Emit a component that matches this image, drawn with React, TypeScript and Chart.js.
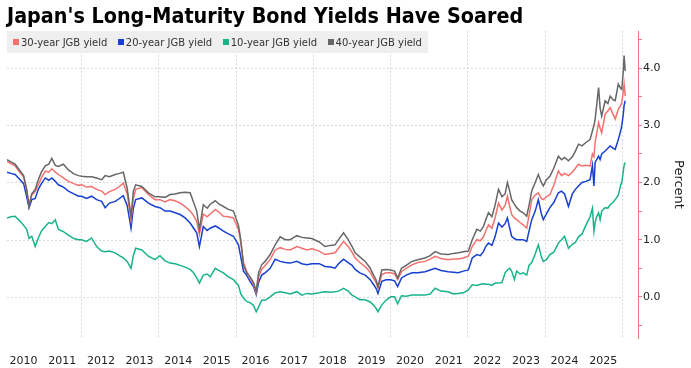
import React, { useEffect, useRef } from 'react';
import { Chart, registerables } from 'chart.js';

Chart.register(...registerables);

const TITLE = "Japan's Long-Maturity Bond Yields Have Soared";
const seriesNames = ['30-year JGB yield', '20-year JGB yield', '10-year JGB yield', '40-year JGB yield'];
const seriesColors = ['#f4716e', '#1740d0', '#19b38a', '#676767'];
const yearLabels = ['2010', '2011', '2012', '2013', '2014', '2015', '2016', '2017', '2018', '2019', '2020', '2021', '2022', '2023', '2024', '2025'];
const gridYears = [2012, 2014, 2016, 2018, 2020, 2022, 2024, 2026];
const yAxisTitle = 'Percent';

const dates = [
  2010.07, 2010.17, 2010.28, 2010.41, 2010.50, 2010.58, 2010.64, 2010.71, 2010.80, 2010.88, 2010.96,
  2011.06, 2011.15, 2011.23, 2011.32, 2011.40, 2011.53, 2011.66, 2011.80, 2011.92,
  2012.00, 2012.13, 2012.26, 2012.39, 2012.52, 2012.61, 2012.72, 2012.87, 2012.98,
  2013.08, 2013.18, 2013.28, 2013.34, 2013.40, 2013.56, 2013.73, 2013.90,
  2014.03, 2014.16,
  2014.29, 2014.42, 2014.55, 2014.68, 2014.81, 2014.90, 2014.98,
  2015.05, 2015.15, 2015.25, 2015.33, 2015.46, 2015.56, 2015.67, 2015.80, 2015.93,
  2016.06, 2016.12, 2016.19, 2016.27, 2016.36, 2016.45, 2016.52, 2016.58, 2016.66, 2016.75, 2016.88,
  2017.01, 2017.14, 2017.27, 2017.40, 2017.57, 2017.70, 2017.83, 2017.96,
  2018.15,
  2018.30, 2018.45, 2018.56, 2018.65, 2018.78, 2018.90,
  2019.00, 2019.08, 2019.20, 2019.34, 2019.47, 2019.55, 2019.62, 2019.67, 2019.77, 2019.88,
  2020.00, 2020.10, 2020.18, 2020.28, 2020.40, 2020.55, 2020.70, 2020.89,
  2021.02, 2021.15, 2021.30, 2021.49, 2021.62, 2021.75, 2021.88,
  2022.01,
  2022.11, 2022.23, 2022.32, 2022.40, 2022.46, 2022.53, 2022.62, 2022.70, 2022.79, 2022.88, 2022.96,
  2023.02, 2023.08, 2023.13, 2023.20, 2023.26, 2023.35, 2023.43, 2023.52, 2023.58, 2023.65, 2023.74, 2023.82, 2023.90, 2023.95,
  2024.03, 2024.12, 2024.22, 2024.34, 2024.42, 2024.50, 2024.60, 2024.70, 2024.78, 2024.86, 2024.95,
  2025.05, 2025.16, 2025.22, 2025.26, 2025.29, 2025.33, 2025.38, 2025.42, 2025.46, 2025.55, 2025.62, 2025.68, 2025.75, 2025.81, 2025.89, 2025.95, 2025.98,
  2026.02, 2026.04, 2026.07,
];

const yield30 = [
  2.37, 2.33, 2.29, 2.17, 2.10, 1.86, 1.61, 1.78, 1.84, 1.96, 2.08,
  2.20, 2.18, 2.24, 2.18, 2.14, 2.08, 2.02, 1.98, 1.95,
  1.96, 1.92, 1.93, 1.88, 1.85, 1.79, 1.84, 1.88, 1.93,
  1.99, 1.80, 1.35, 1.72, 1.88, 1.91, 1.79, 1.70,
  1.70, 1.66,
  1.70, 1.68, 1.64, 1.58, 1.50, 1.42, 1.32,
  1.09, 1.45, 1.40, 1.45, 1.53, 1.48, 1.41, 1.40, 1.38,
  1.18, 0.95, 0.60, 0.45, 0.33, 0.22, 0.07, 0.35, 0.48, 0.55, 0.65,
  0.82, 0.86, 0.83, 0.82, 0.88, 0.85, 0.82, 0.84,
  0.80,
  0.74, 0.76, 0.77, 0.85, 0.97, 0.88,
  0.78, 0.68, 0.60, 0.53, 0.43, 0.33, 0.25, 0.15, 0.39, 0.42,
  0.42, 0.40, 0.30, 0.44, 0.50, 0.56, 0.60, 0.62,
  0.66, 0.71, 0.67, 0.65, 0.66, 0.66, 0.68,
  0.71,
  0.88, 1.00, 0.98, 1.05, 1.15, 1.26, 1.20, 1.38, 1.64, 1.52, 1.60,
  1.76, 1.58, 1.44, 1.38, 1.35, 1.30, 1.26, 1.20, 1.42, 1.70, 1.78, 1.82, 1.72, 1.70,
  1.75, 1.79, 1.95, 2.20, 2.12, 2.16, 2.12, 2.18, 2.25, 2.32, 2.29,
  2.30, 2.29, 2.50, 2.45, 2.70, 2.85, 3.05, 2.95, 2.87, 3.20, 3.25, 3.31, 3.20, 3.11, 3.28, 3.35, 3.40,
  3.60, 3.72, 3.51,
];

const yield20 = [
  2.18, 2.16, 2.14, 2.05, 1.98, 1.75, 1.56, 1.70, 1.72, 1.88, 1.98,
  2.08, 2.04, 2.08, 2.02, 1.96, 1.92, 1.85, 1.80, 1.76,
  1.76, 1.72, 1.76, 1.70, 1.67, 1.56, 1.64, 1.67, 1.72,
  1.77, 1.60, 1.20, 1.55, 1.70, 1.73, 1.64, 1.58,
  1.56, 1.50,
  1.50, 1.47, 1.44, 1.38, 1.29, 1.20, 1.12,
  0.88, 1.23, 1.16, 1.20, 1.24, 1.20, 1.15, 1.10, 1.06,
  0.91, 0.70, 0.45, 0.38, 0.27, 0.18, 0.04, 0.25, 0.38, 0.42, 0.50,
  0.66, 0.62, 0.60, 0.59, 0.62, 0.58, 0.56, 0.58,
  0.58,
  0.53, 0.52, 0.50, 0.58, 0.66, 0.60,
  0.55, 0.48, 0.42, 0.38, 0.30, 0.22, 0.15, 0.06, 0.27, 0.30,
  0.30, 0.28, 0.18, 0.33, 0.38, 0.42, 0.42, 0.44,
  0.47, 0.50, 0.46, 0.44, 0.43, 0.42, 0.45,
  0.47,
  0.68, 0.74, 0.72, 0.79, 0.88, 0.94, 0.90, 1.05, 1.29, 1.22, 1.28,
  1.38, 1.20, 1.06, 1.02, 1.00, 1.00, 1.00, 0.97, 1.15, 1.35, 1.50, 1.70, 1.45, 1.35,
  1.45, 1.56, 1.65, 1.82, 1.85, 1.80, 1.58, 1.80, 1.88, 1.94, 2.00,
  2.02, 2.05, 2.30, 1.94, 2.35, 2.40, 2.46, 2.40, 2.50, 2.55, 2.60, 2.64, 2.60, 2.58, 2.75, 2.90, 2.99,
  3.20, 3.35, 3.43,
];

const yield10 = [
  1.38, 1.40, 1.41, 1.32, 1.25, 1.18, 1.02, 1.06, 0.88, 1.03, 1.15,
  1.23, 1.30, 1.28, 1.35, 1.18, 1.14, 1.08, 1.02, 1.00,
  1.00, 0.97, 1.03, 0.88, 0.80, 0.79, 0.80, 0.77, 0.72,
  0.68, 0.62, 0.50, 0.72, 0.85, 0.82, 0.71, 0.65,
  0.72, 0.63,
  0.59, 0.58, 0.55, 0.52, 0.48, 0.42, 0.33,
  0.24, 0.38, 0.40, 0.35, 0.50, 0.46, 0.42, 0.35, 0.30,
  0.20, 0.05, -0.02, -0.08, -0.10, -0.15, -0.26, -0.18, -0.06, -0.06, 0.00,
  0.07, 0.09, 0.07, 0.05, 0.09, 0.03, 0.06, 0.05,
  0.07,
  0.09, 0.08, 0.09, 0.10, 0.15, 0.10,
  0.03, 0.00, -0.05, -0.05, -0.09, -0.14, -0.20, -0.26, -0.14, -0.06,
  0.00, 0.00, -0.12, 0.02, 0.01, 0.03, 0.03, 0.03,
  0.05, 0.15, 0.10, 0.09, 0.05, 0.06, 0.07,
  0.12,
  0.21, 0.20, 0.22, 0.23, 0.22, 0.22, 0.20, 0.24, 0.24, 0.25, 0.42,
  0.47, 0.50, 0.45, 0.30, 0.45, 0.40, 0.42, 0.38, 0.55, 0.60, 0.75, 0.91, 0.70, 0.62,
  0.65, 0.74, 0.78, 0.94, 1.00, 1.06, 0.85, 0.92, 0.95, 1.05, 1.10,
  1.25, 1.40, 1.55, 1.15, 1.30, 1.40, 1.47, 1.35, 1.50, 1.56, 1.55, 1.61, 1.65, 1.70, 1.78, 1.95, 2.00,
  2.20, 2.30, 2.35,
];

const yield40 = [
  2.40, 2.36, 2.32, 2.20, 2.12, 1.88, 1.58, 1.80, 1.88, 2.05, 2.18,
  2.29, 2.32, 2.42, 2.30, 2.28, 2.32, 2.22, 2.15, 2.12,
  2.11, 2.10, 2.10, 2.08, 2.05, 2.12, 2.10, 2.14, 2.16,
  2.18, 1.90, 1.41, 1.85, 1.96, 1.93, 1.82, 1.75,
  1.75, 1.74,
  1.79, 1.80, 1.82, 1.83, 1.82, 1.65, 1.50,
  1.18, 1.61, 1.55, 1.62, 1.68, 1.62, 1.58, 1.53, 1.50,
  1.25, 1.00, 0.55, 0.42, 0.35, 0.25, 0.10, 0.42, 0.56, 0.62, 0.74,
  0.91, 1.05, 1.00, 1.00, 1.07, 1.04, 1.03, 1.02,
  0.96,
  0.88, 0.90, 0.91, 1.00, 1.12, 1.00,
  0.88, 0.77, 0.70, 0.62, 0.50, 0.39, 0.30, 0.18, 0.47, 0.48,
  0.47, 0.45, 0.33, 0.50, 0.55, 0.62, 0.65, 0.68,
  0.72, 0.79, 0.75, 0.74, 0.76, 0.77, 0.79,
  0.80,
  1.00, 1.18, 1.15, 1.23, 1.35, 1.47, 1.40, 1.60, 1.88, 1.75, 1.80,
  2.00, 1.85, 1.70, 1.62, 1.56, 1.50, 1.47, 1.41, 1.60, 1.85, 2.00, 2.14, 2.00, 1.94,
  2.05, 2.11, 2.25, 2.46, 2.40, 2.44, 2.38, 2.45, 2.55, 2.67, 2.64,
  2.70, 2.75, 2.90, 3.00, 3.10, 3.35, 3.66, 3.30, 3.16, 3.43, 3.38, 3.51, 3.45, 3.43, 3.72, 3.65, 3.63,
  3.95, 4.22, 3.95,
];

const seriesValues = [yield30, yield20, yield10, yield40];
const drawOrder = [1, 2, 3, 0];

const X_MIN = 2010.07;
const X_MAX = 2026.4;
const Y_MIN = -0.72;
const Y_MAX = 4.65;

const GRID_COLOR = '#d9d9d9';
const AXIS_RED = '#ec7b7b';
const FONT = "'DejaVu Sans', sans-serif";

const isInt = (v: number) => Math.abs(v - Math.round(v)) < 1e-6;

const hGridPlugin = {
  id: 'hGrid',
  beforeDatasetsDraw(chart: any) {
    const { ctx, chartArea, scales } = chart;
    const x = scales.x;
    const y = scales.y;
    const xEnd = x.getPixelForValue(gridYears[gridYears.length - 1]);
    ctx.save();
    ctx.strokeStyle = GRID_COLOR;
    ctx.lineWidth = 1;
    ctx.setLineDash([2, 2]);
    y.ticks.forEach((t: any) => {
      if (!isInt(t.value)) return;
      const py = Math.round(y.getPixelForValue(t.value)) + 0.5;
      ctx.beginPath();
      ctx.moveTo(chartArea.left, py);
      ctx.lineTo(xEnd, py);
      ctx.stroke();
    });
    ctx.restore();
  },
};

export default function App() {
  const canvasRef = useRef<HTMLCanvasElement | null>(null);

  useEffect(() => {
    if (!canvasRef.current) return;
    const datasets = seriesNames.map((name, i) => ({
      label: name,
      data: dates.map((d, k) => ({ x: d, y: seriesValues[i][k] })),
      borderColor: seriesColors[i],
      backgroundColor: seriesColors[i],
      borderWidth: 1.5,
      pointRadius: 0,
      tension: 0,
      order: drawOrder[i],
    }));

    const chart = new Chart(canvasRef.current, {
      type: 'line',
      data: { datasets },
      options: {
        animation: false,
        responsive: false,
        maintainAspectRatio: false,
        layout: { padding: { top: 31, left: 7, right: 0, bottom: 0 } },
        plugins: {
          legend: { display: false },
          title: { display: false },
          tooltip: { enabled: false },
        },
        scales: {
          x: {
            type: 'linear',
            min: X_MIN,
            max: X_MAX,
            afterBuildTicks: (scale: any) => {
              const t: any[] = [];
              gridYears.forEach((g) => t.push({ value: g }));
              yearLabels.forEach((l) => t.push({ value: Number(l) + 0.5 }));
              t.sort((a, b) => a.value - b.value);
              scale.ticks = t;
            },
            afterFit: (scale: any) => {
              scale.height = 30;
              scale.paddingLeft = 0;
              scale.paddingRight = 0;
            },
            border: { display: false, dash: [2, 2] },
            grid: {
              color: (c: any) => (c.tick && isInt(c.tick.value) ? GRID_COLOR : 'rgba(0,0,0,0)'),
              drawTicks: false,
              lineWidth: 1,
            },
            ticks: {
              autoSkip: false,
              maxRotation: 0,
              padding: 17,
              color: '#222',
              font: { family: FONT, size: 11 },
              callback: (v: any) => {
                const n = Number(v);
                if (isInt(n)) return '';
                const lbl = String(Math.floor(n));
                return yearLabels.includes(lbl) ? lbl : '';
              },
            },
          },
          y: {
            type: 'linear',
            position: 'right',
            min: Y_MIN,
            max: Y_MAX,
            afterFit: (scale: any) => {
              scale.width = 53;
            },
            border: { display: true, color: AXIS_RED, width: 1 },
            grid: {
              drawOnChartArea: false,
              drawTicks: true,
              tickLength: 4,
              tickColor: AXIS_RED,
            },
            ticks: {
              stepSize: 0.5,
              includeBounds: false,
              padding: 1,
              color: '#222',
              font: { family: FONT, size: 11 },
              callback: (v: any) => (isInt(Number(v)) ? Number(v).toFixed(1) : ''),
            },
            title: {
              display: true,
              text: yAxisTitle,
              color: '#222',
              font: { family: FONT, size: 13 },
              padding: { top: 5, bottom: 0 },
            },
          },
        },
      },
      plugins: [hGridPlugin],
    });
    return () => chart.destroy();
  }, []);

  return (
    <div style={{ position: 'fixed', left: 0, top: 0, width: 691, height: 368, background: '#fff', overflow: 'hidden' }}>
      <canvas ref={canvasRef} width={691} height={368} style={{ position: 'absolute', left: 0, top: 0, width: 691, height: 368 }} />
      <div
        style={{
          position: 'absolute',
          left: 7,
          top: 5,
          fontFamily: FONT,
          fontWeight: 'bold',
          fontSize: 20.5,
          lineHeight: '22px',
          color: '#000',
          whiteSpace: 'nowrap',
          transformOrigin: 'left top',
          transform: 'scaleX(0.937)',
        }}
      >
        {TITLE}
      </div>
      <div
        style={{
          position: 'absolute',
          left: 7,
          top: 31,
          width: 421,
          height: 22,
          background: 'rgba(236,236,236,0.85)',
          display: 'flex',
          alignItems: 'center',
          paddingLeft: 6,
          boxSizing: 'border-box',
          fontFamily: FONT,
          fontSize: 10,
          color: '#333',
          whiteSpace: 'nowrap',
        }}
      >
        {seriesNames.map((n, i) => (
          <span key={n} style={{ display: 'flex', alignItems: 'center', marginRight: 10.5 }}>
            <span style={{ display: 'inline-block', width: 6, height: 6, background: seriesColors[i], marginRight: 2 }} />
            <span>{n}</span>
          </span>
        ))}
      </div>
    </div>
  );
}
